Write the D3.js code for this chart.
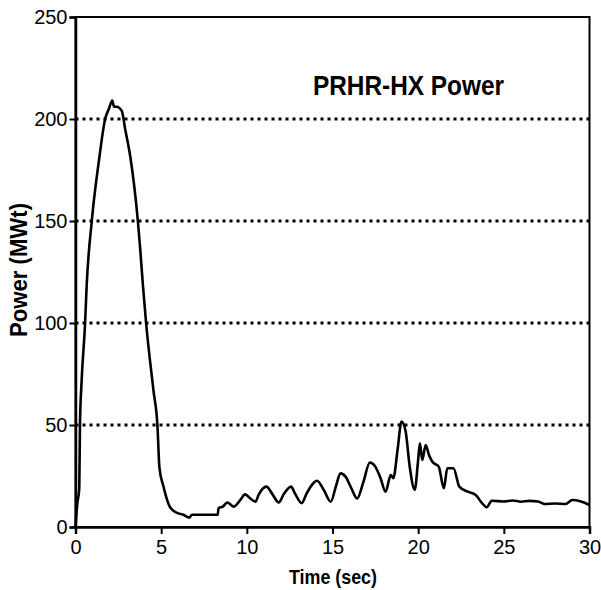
<!DOCTYPE html>
<html>
<head>
    <meta charset="UTF-8" />
    <title>PRHR-HX Power</title>
    <script src="https://cdn.jsdelivr.net/npm/d3@7"></script>
    <style type="text/css">
        body {
            margin: 0;
            background-color: #fff;
        }
        svg text {
            font-family: 'Liberation Sans', Arial, sans-serif;
            fill: #000;
        }
    </style>
</head>
<body>
<div id="chart"></div>
<script>
    // time (sec) and power (MWt)
    var time = [0, 0.1, 0.22, 0.26, 0.36, 0.56, 0.65, 0.95, 1.39, 1.73, 1.95, 2.15, 2.25, 2.4, 2.7, 2.9,
        3.19, 3.64, 3.77, 3.93, 4.12, 4.55, 4.78, 4.9, 5.13, 5.5, 5.9, 6.3, 6.65, 6.8, 7.3, 7.8, 8.3,
        8.35, 8.6, 8.86, 9.23, 9.6, 9.9, 10.2, 10.5, 10.7, 11.14, 11.5, 11.86, 12.15, 12.58, 12.8,
        13.2, 13.5, 14.1, 14.5, 14.9, 15.2, 15.47, 15.76, 16.1, 16.44, 16.8, 17.18, 17.5, 17.8, 18.1,
        18.4, 18.55, 18.8, 19.03, 19.27, 19.5, 19.8, 19.99, 20.1, 20.24, 20.44, 20.63, 20.83, 21.2,
        21.5, 21.7, 22.06, 22.4, 22.9, 23.36, 23.7, 24.0, 24.3, 25, 25.5, 26, 26.5, 27, 27.36, 28,
        28.6, 29.0, 29.5, 30];
    var power = [0, 11, 19, 50, 72, 100, 118, 150, 181, 200, 205, 209, 206, 206, 204, 195,
        182, 150, 137, 119, 100, 67, 50, 29, 20, 10, 7, 6, 4.6, 6, 6, 6, 6,
        9.3, 10, 12, 10, 13, 16, 14, 12.4, 16, 19.8, 16, 12, 16, 19.8, 16.6,
        11.7, 16.6, 22.7, 18, 12.4, 20, 26.3, 24.7, 19, 14, 22, 31.6, 29.6, 24, 17.3,
        25.5, 23.9, 38, 51.7, 46.8, 30, 18.2, 32, 41, 32.9, 40.2, 35.3, 32, 29.6,
        19, 28.8, 28.8, 19.8, 17.3, 15.7, 12, 9.7, 12.9, 12.5, 13, 12.4, 12.8, 12.5, 11.3, 11.5,
        11.3, 13.2, 12.5, 10.8];
    var xTicks = [0, 5, 10, 15, 20, 25, 30];
    var yTicks = [0, 50, 100, 150, 200, 250];
    var gridValues = [50, 100, 150, 200];

    var w = 601, h = 590;
    var mLeft = 75.5, mRight = 589.5, mTop = 17, mBottom = 527;

    var x = d3.scaleLinear().domain([0, 30]).range([mLeft, mRight]);
    var y = d3.scaleLinear().domain([0, 250]).range([mBottom, mTop]);

    var svg = d3.select("#chart")
        .append("svg")
        .attr("width", w)
        .attr("height", h);

    // dotted gridlines
    svg.append("g")
        .selectAll("line")
        .data(gridValues)
        .enter().append("line")
        .attr("x1", mLeft)
        .attr("x2", mRight)
        .attr("y1", function(d){ return Math.round(y(d)); })
        .attr("y2", function(d){ return Math.round(y(d)); })
        .attr("stroke", "#000")
        .attr("stroke-width", 3)
        .attr("stroke-dasharray", "3,4");

    // frame
    svg.append("rect")
        .attr("x", mLeft)
        .attr("y", mTop)
        .attr("width", mRight - mLeft)
        .attr("height", mBottom - mTop)
        .attr("fill", "none")
        .attr("stroke", "#000")
        .attr("stroke-width", 2);

    var xAxis = svg.append("g")
        .attr("transform", "translate(0," + mBottom + ")")
        .call(d3.axisBottom(x).tickValues(xTicks).tickSize(7).tickPadding(6).tickFormat(d3.format("d")));

    var yAxis = svg.append("g")
        .attr("transform", "translate(" + mLeft + ",0)")
        .call(d3.axisLeft(y).tickValues(yTicks).tickSize(6).tickPadding(2).tickFormat(d3.format("d")));

    [xAxis, yAxis].forEach(function(a){
        a.select(".domain").attr("stroke", "#000").attr("stroke-width", 2.5);
        a.selectAll(".tick line").attr("stroke", "#000").attr("stroke-width", 2);
        a.selectAll(".tick text").style("font-size", "20px").attr("fill", "#000");
    });

    // power curve
    var line = d3.line()
        .curve(d3.curveMonotoneX)
        .x(function(d, i){ return x(time[i]); })
        .y(function(d){ return y(d); });

    svg.append("path")
        .datum(power)
        .attr("d", line)
        .attr("fill", "none")
        .attr("stroke", "#000")
        .attr("stroke-width", 2.6)
        .attr("stroke-linejoin", "round");

    // title inside plot
    svg.append("text")
        .attr("x", 313)
        .attr("y", 95)
        .attr("textLength", 191)
        .attr("lengthAdjust", "spacingAndGlyphs")
        .style("font-size", "28px")
        .style("font-weight", "bold")
        .text("PRHR-HX Power");

    svg.append("text")
        .attr("x", 289)
        .attr("y", 584)
        .attr("textLength", 88)
        .attr("lengthAdjust", "spacingAndGlyphs")
        .style("font-size", "21px")
        .style("font-weight", "bold")
        .text("Time (sec)");

    svg.append("text")
        .attr("transform", "translate(27,337) rotate(-90)")
        .attr("textLength", 134)
        .attr("lengthAdjust", "spacingAndGlyphs")
        .style("font-size", "24px")
        .style("font-weight", "bold")
        .text("Power (MWt)");
</script>
</body>
</html>
